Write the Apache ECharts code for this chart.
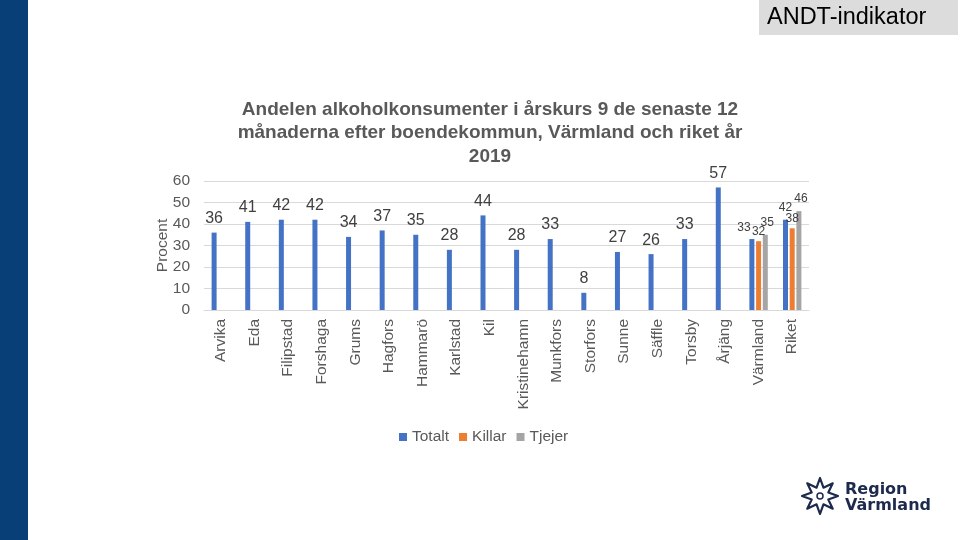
<!DOCTYPE html>
<html>
<head>
<meta charset="utf-8">
<script src="https://cdn.jsdelivr.net/npm/echarts@6/dist/echarts.min.js"></script>
<style>html,body{margin:0;padding:0;background:#fff}#c{width:960px;height:540px}</style>
</head>
<body>
<div id="c"></div>
<script>
const categories = ['Arvika','Eda','Filipstad','Forshaga','Grums','Hagfors','Hammarö','Karlstad','Kil','Kristinehamn','Munkfors','Storfors','Sunne','Säffle','Torsby','Årjäng','Värmland','Riket'];
const totalt = [36,41,42,42,34,37,35,28,44,28,33,8,27,26,33,57,33,42];
const killar = [null,null,null,null,null,null,null,null,null,null,null,null,null,null,null,null,32,38];
const tjejer = [null,null,null,null,null,null,null,null,null,null,null,null,null,null,null,null,35,46];
const yTicks = [0,10,20,30,40,50,60];

const FONT = '"Liberation Sans", Arial, sans-serif';
const chart = echarts.init(document.getElementById('c'), null, {renderer:'canvas'});

function mk(arr, small) {
  return arr.map((v, i) => {
    if (v == null) return null;
    const o = { value: v };
    if (i >= 16) {
      o.label = { fontSize: 12 };
      if (small && small[i]) Object.assign(o.label, small[i]);
    }
    return o;
  });
}

const totData = mk(totalt, {16: {offset: [-8, 1]}, 17: {offset: [0, 0]}});
const kilData = mk(killar, {16: {offset: [0, 2]}, 17: {offset: [0, 2]}});
const tjeData = mk(tjejer, {16: {offset: [2, 0]}, 17: {offset: [2, 0]}});

const labelBase = { show: true, position: 'top', distance: 6, color: '#404040', fontSize: 16, fontFamily: FONT };

// flower logo points
const cx = 820, cy = 496;
const pts = [];
for (let k = 0; k < 16; k++) {
  const a = -Math.PI / 2 + k * Math.PI / 8;
  const r = (k % 2 === 0) ? 18 : 9;
  pts.push([cx + r * Math.cos(a), cy + r * Math.sin(a)]);
}

chart.setOption({
  animation: false,
  textStyle: { fontFamily: FONT },
  title: {
    text: 'Andelen alkoholkonsumenter i årskurs 9 de senaste 12\nmånaderna efter boendekommun, Värmland och riket år\n2019',
    left: 485, top: 93, textAlign: 'center',
    textStyle: { fontSize: 19, fontWeight: 'bold', color: '#595959', lineHeight: 23.5, fontFamily: FONT }
  },
  legend: {
    data: ['Totalt','Killar','Tjejer'],
    left: 394, top: 424,
    itemWidth: 8, itemHeight: 8, itemGap: 10,
    icon: 'rect',
    textStyle: { fontSize: 15.5, color: '#595959', fontFamily: FONT }
  },
  grid: { left: 204, right: 151, top: 181, bottom: 230, containLabel: false },
  xAxis: {
    type: 'category', data: categories,
    axisLine: { lineStyle: { color: '#d9d9d9' } },
    axisTick: { show: false },
    axisLabel: { rotate: 90, interval: 0, margin: 9, fontSize: 15.5, color: '#595959', fontFamily: FONT }
  },
  yAxis: {
    type: 'value', min: yTicks[0], max: yTicks[yTicks.length - 1], interval: 10,
    name: 'Procent', nameLocation: 'middle', nameGap: 33, nameRotate: 90, nameMoveOverlap: false,
    nameTextStyle: { fontSize: 15.5, color: '#595959', fontFamily: FONT },
    axisLabel: { fontSize: 15.5, color: '#595959', margin: 14, fontFamily: FONT },
    splitLine: { lineStyle: { color: '#d9d9d9' } },
    axisLine: { show: false }, axisTick: { show: false }
  },
  series: [
    { name: 'Totalt', type: 'bar', data: totData, barWidth: 5, barGap: '34%', itemStyle: { color: '#4472c4' }, label: labelBase },
    { name: 'Killar', type: 'bar', data: kilData, barWidth: 5, barGap: '34%', itemStyle: { color: '#ed7d31' }, label: labelBase },
    { name: 'Tjejer', type: 'bar', data: tjeData, barWidth: 5, barGap: '34%', itemStyle: { color: '#a5a5a5' }, label: labelBase }
  ],
  graphic: [
    { type: 'rect', shape: { x: 0, y: 0, width: 28, height: 540 }, style: { fill: '#073f76' }, silent: true },
    { type: 'rect', shape: { x: 759, y: 0, width: 199, height: 35 }, style: { fill: '#dcdcdc' }, silent: true },
    { type: 'text', x: 767, y: 18, style: { text: 'ANDT-indikator', fontSize: 23.5, fill: '#000', fontFamily: FONT, verticalAlign: 'middle' }, silent: true },
    { type: 'polygon', shape: { points: pts }, style: { fill: 'none', stroke: '#1d2a4d', lineWidth: 2.2, lineJoin: 'round' }, silent: true },
    { type: 'circle', shape: { cx: cx, cy: cy, r: 3 }, style: { fill: 'none', stroke: '#1d2a4d', lineWidth: 1.5 }, silent: true },
    { type: 'text', x: 845, y: 490, style: { text: 'Region', fontSize: 16, fontWeight: 'bold', fill: '#1d2a4d', fontFamily: '"DejaVu Sans", sans-serif', verticalAlign: 'middle' }, silent: true },
    { type: 'text', x: 845, y: 506, style: { text: 'Värmland', fontSize: 16, fontWeight: 'bold', fill: '#1d2a4d', fontFamily: '"DejaVu Sans", sans-serif', verticalAlign: 'middle' }, silent: true }
  ]
});
</script>
</body>
</html>
